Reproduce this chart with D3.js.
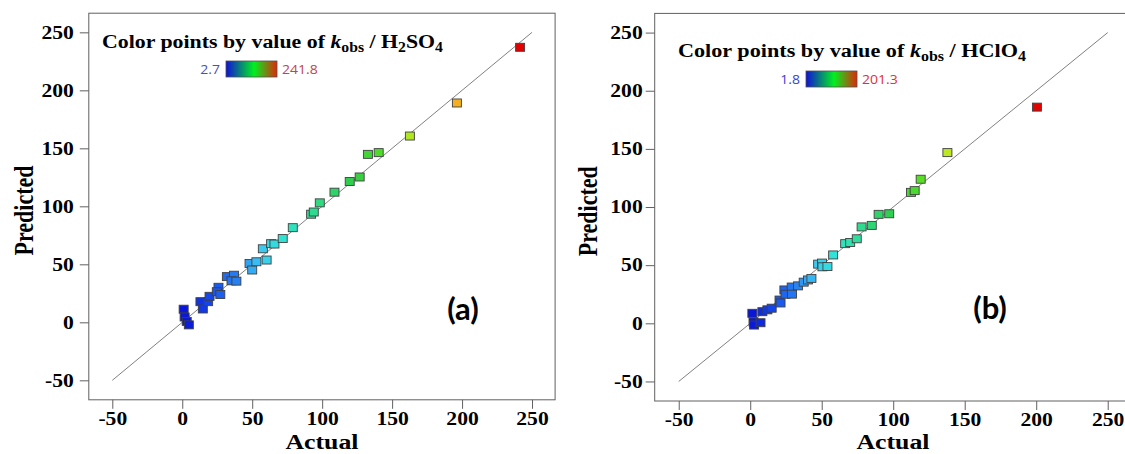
<!DOCTYPE html>
<html>
<head>
<meta charset="utf-8">
<script src="https://cdn.jsdelivr.net/npm/d3@7"></script>
<style>
  body { margin: 0; background: #fff; }
  svg { display: block; }
</style>
</head>
<body>
<div id="chart"></div>
<script>
// values
var ticks = [-50, 0, 50, 100, 150, 200, 250];
var domain = [-66.8, 266.5];
var diag = [-50, 250];

// (a) H2SO4
var actualA = [1, 1.7, 3.2, 4.7, 13, 14.7, 18.5, 19.5, 25.9, 24.7, 27.2, 31.9, 37, 35.2, 38.7, 48.1, 50, 53, 60.3, 57.6, 63.5, 65.9, 71.8, 79, 92.1, 94, 98.3, 108.8, 119.7, 126.8, 132.7, 140.4, 162.7, 196.3, 241.5];
var predA = [11.3, 4.6, 0.8, -2.2, 17.8, 11.5, 17.8, 22.4, 30.2, 26.4, 24, 39.4, 40.6, 35.8, 35.5, 50.7, 45.1, 52.2, 53.7, 63.4, 67.8, 67.5, 72.2, 81.6, 93.2, 95.1, 103, 112.2, 121.4, 125.3, 144.8, 146.3, 160.6, 189.1, 237.1];
var kRangeA = [2.7, 241.8];

// (b) HClO4
var actualB = [1.5, 2.3, 2.7, 7.2, 8.5, 12, 15, 20.5, 21.2, 23.9, 24.7, 29, 29.2, 33.4, 37.4, 40.4, 42.8, 47.5, 50.2, 50.5, 54, 58, 66.4, 69.9, 74.5, 77.9, 85, 89.8, 97.2, 112.4, 115, 119.2, 137.9, 200.5];
var predB = [8.6, 1.2, -1.5, 0.5, 10, 11.6, 13, 20, 17.5, 28.7, 25, 31.2, 25.1, 32.2, 35.4, 37.3, 38.6, 50.9, 51.8, 48.6, 48.8, 58.8, 68.5, 69.5, 72.7, 82.9, 84.2, 93.7, 94.2, 112.6, 114.1, 123.9, 146.8, 185.9];
var kRangeB = [1.8, 201.3];

var acidA = [["H", 0], ["2", 1], ["SO", 0], ["4", 1]];
var acidB = [["HClO", 0], ["4", 1]];

var W = 1125, H = 454;
var serif = "'Liberation Serif', 'Times New Roman', serif";
var sx = 1.2; // the picture is a bit stretched sideways

// rainbow used for the points (fraction of k range -> colour)
var pointStops = [0, 0.1, 0.17, 0.22, 0.28, 0.34, 0.4, 0.5, 0.58, 0.68, 0.81, 1];
var pointColors = ["#0a16d8", "#1a5cf0", "#2c8cf0", "#3cc6f4", "#30e2d8", "#30e0b0", "#30d880", "#30cc48", "#50dc28", "#bce820", "#f5b020", "#e00000"];
var pointColor = d3.scaleLinear().domain(pointStops).range(pointColors);

var svg = d3.select("#chart")
    .append("svg")
    .attr("width", W)
    .attr("height", H);

var defs = svg.append("defs");
var grad = defs.append("linearGradient").attr("id", "kbar");
grad.append("stop").attr("offset", "0%").attr("stop-color", "#1010d8");
grad.append("stop").attr("offset", "55%").attr("stop-color", "#00f020");
grad.append("stop").attr("offset", "100%").attr("stop-color", "#e02808");

//plain hyphen for negatives, like the original
function tickLabel(d) { return String(d); }

//draw one parity panel
function drawPanel(p)
{
    var x = d3.scaleLinear().domain(domain).range([p.left, p.right]);
    var y = d3.scaleLinear().domain(domain).range([p.bottom, p.top]);
    var g = svg.append("g");

    // frame
    g.append("rect")
        .attr("x", p.left)
        .attr("y", p.top)
        .attr("width", p.right - p.left)
        .attr("height", p.bottom - p.top)
        .style("fill", "none")
        .style("stroke", "#606060")
        .style("stroke-width", 1);

    var ax = g.append("g")
        .attr("transform", "translate(0," + p.bottom + ")")
        .call(d3.axisBottom(x).tickValues(ticks).tickSize(9).tickSizeOuter(0).tickPadding(3).tickFormat(tickLabel));
    var ay = g.append("g")
        .attr("transform", "translate(" + p.left + ",0)")
        .call(d3.axisLeft(y).tickValues(ticks).tickSize(9).tickSizeOuter(0).tickPadding(p.ypad).tickFormat(tickLabel));

    [ax, ay].forEach(function(a) {
        a.attr("font-family", serif);
        a.select(".domain").remove();
        a.selectAll(".tick line").style("stroke", "#606060");
        a.selectAll(".tick text")
            .style("font-family", serif)
            .style("font-weight", "bold")
            .style("font-size", "18px")
            .style("fill", "#000")
            .attr("transform", "scale(" + sx + ",1)");
    });
    ay.selectAll(".tick text").attr("x", -(9 + p.ypad) / sx);

    // axis titles
    g.append("text")
        .attr("transform", "translate(" + ((p.left + p.right) / 2) + "," + p.xlabY + ") scale(" + sx + ",1)")
        .attr("text-anchor", "middle")
        .style("font-family", serif)
        .style("font-weight", "bold")
        .style("font-size", "21.5px")
        .text("Actual");

    g.append("text")
        .attr("transform", "translate(" + p.ylabX + "," + ((p.top + p.bottom) / 2 + 4) + ") rotate(-90) scale(1," + sx + ")")
        .attr("text-anchor", "middle")
        .style("font-family", serif)
        .style("font-weight", "bold")
        .style("font-size", "22px")
        .text("Predicted");

    // 1:1 line
    g.append("line")
        .attr("x1", x(diag[0]))
        .attr("y1", y(diag[0]))
        .attr("x2", x(diag[1]))
        .attr("y2", y(diag[1]))
        .style("stroke", "#808080")
        .style("stroke-width", 1);

    // points
    var data = p.actual.map(function(a, i) { return {a: a, p: p.pred[i]}; });
    var k0 = p.krange[0], k1 = p.krange[1];
    g.selectAll(".pt")
        .data(data)
        .enter()
        .append("rect")
        .attr("class", "pt")
        .attr("x", function(d) { return x(d.a) - 4.5; })
        .attr("y", function(d) { return y(d.p) - 4; })
        .attr("width", 9)
        .attr("height", 8)
        .style("fill", function(d) { return pointColor(Math.max(0, Math.min(1, (d.a - k0) / (k1 - k0)))); })
        .style("stroke", "#404040")
        .style("stroke-width", 0.9);

    // legend title
    var t = g.append("text")
        .attr("transform", "translate(" + p.titleX + "," + p.titleY + ") scale(1.15,1)")
        .style("font-family", serif)
        .style("font-weight", "bold")
        .style("font-size", p.titleSize + "px");
    t.append("tspan").text("Color points by value of ");
    t.append("tspan").style("font-style", "italic").text("k");
    t.append("tspan").attr("dy", 4).style("font-size", (p.titleSize * 0.72) + "px").text("obs");
    t.append("tspan").attr("dy", -4).text(" / ");
    var sub = 0;
    p.acid.forEach(function(part) {
        var s = t.append("tspan").text(part[0]);
        if(part[1] && !sub) { s.attr("dy", 4).style("font-size", (p.titleSize * 0.72) + "px"); sub = 1; }
        else if(!part[1] && sub) { s.attr("dy", -4); sub = 0; }
    });

    // colour bar
    g.append("rect")
        .attr("x", p.barX)
        .attr("y", p.barY)
        .attr("width", 51)
        .attr("height", 16)
        .style("fill", "url(#kbar)")
        .style("stroke", "#505050")
        .style("stroke-width", 0.8);

    g.append("text")
        .attr("transform", "translate(" + (p.barX - 6) + "," + (p.barY + 12.5) + ") scale(1.12,1)")
        .attr("text-anchor", "end")
        .style("font-family", "'Open Sans', 'Noto Sans', sans-serif")
        .style("font-size", "12.5px")
        .style("fill", p.minColor)
        .text(p.krange[0]);

    g.append("text")
        .attr("transform", "translate(" + (p.barX + 56) + "," + (p.barY + 12.5) + ") scale(1.12,1)")
        .style("font-family", "'Open Sans', 'Noto Sans', sans-serif")
        .style("font-size", "12.5px")
        .style("fill", p.maxColor)
        .text(p.krange[1]);

    // panel letter
    g.append("text")
        .attr("x", p.letterX)
        .attr("y", p.letterY)
        .attr("text-anchor", "middle")
        .style("font-family", "Lato, 'Open Sans', sans-serif")
        .style("font-weight", "bold")
        .style("font-size", "31px")
        .text(p.letter);
}

drawPanel({
    left: 88.8, right: 555.1, top: 13.2, bottom: 399.8,
    ypad: 6, xlabY: 449, ylabX: 33,
    actual: actualA, pred: predA, krange: kRangeA, acid: acidA,
    titleX: 102, titleY: 48, titleSize: 19,
    barX: 226, barY: 61,
    minColor: "#4a50b0", maxColor: "#c04448",
    letter: "(a)", letterX: 463, letterY: 320
});

drawPanel({
    left: 654.7, right: 1131.3, top: 13.4, bottom: 401,
    ypad: 3, xlabY: 449, ylabX: 597,
    actual: actualB, pred: predB, krange: kRangeB, acid: acidB,
    titleX: 678, titleY: 57, titleSize: 19.3,
    barX: 806, barY: 71,
    minColor: "#3a40d0", maxColor: "#e03030",
    letter: "(b)", letterX: 990, letterY: 319
});
</script>
</body>
</html>
